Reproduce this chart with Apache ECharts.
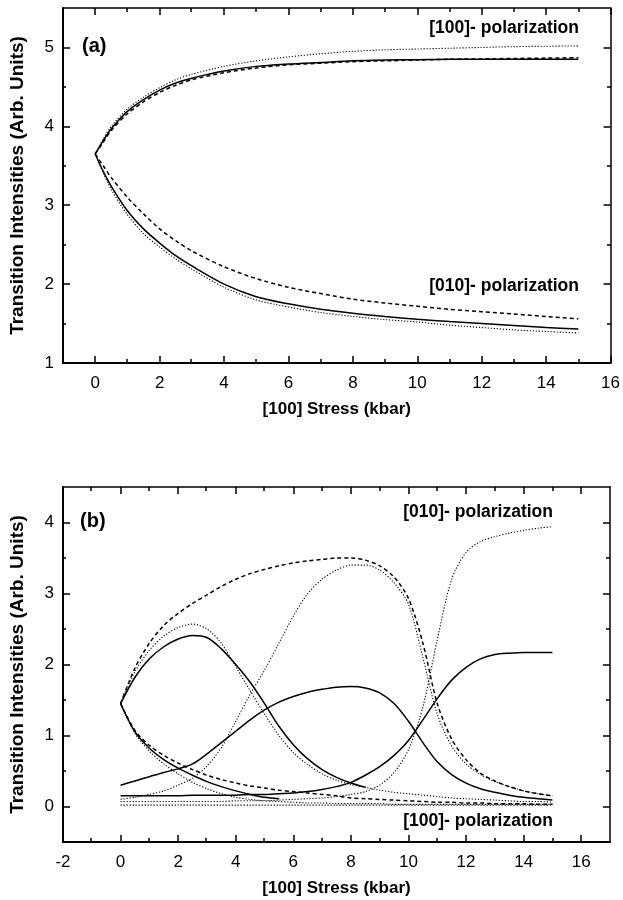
<!DOCTYPE html>
<html><head><meta charset="utf-8">
<script src="https://cdn.jsdelivr.net/npm/echarts@6/dist/echarts.min.js"></script>
<style>html,body{margin:0;padding:0;background:#fff}#c{width:623px;height:900px}</style>
</head><body><div id="c"></div>
<script>
// ---------- Panel (a) data ----------
const xA = [0,0.25,0.5,1,1.5,2,2.5,3,4,5,6,7,8,9,10,11,12,13,14,15];
const a100Solid  = [3.65,3.82,3.97,4.19,4.34,4.46,4.55,4.61,4.70,4.76,4.79,4.81,4.83,4.84,4.845,4.85,4.85,4.85,4.85,4.85];
const a100Dotted = [3.65,3.84,4.00,4.22,4.37,4.49,4.59,4.66,4.76,4.83,4.88,4.92,4.95,4.97,4.98,4.99,5.00,5.01,5.015,5.02];
const a100Dashed = [3.65,3.80,3.95,4.16,4.31,4.43,4.52,4.59,4.68,4.74,4.78,4.80,4.82,4.83,4.84,4.85,4.855,4.86,4.865,4.87];
const a010Solid  = [3.65,3.43,3.24,2.93,2.70,2.52,2.36,2.23,2.00,1.84,1.75,1.68,1.63,1.59,1.555,1.525,1.50,1.475,1.45,1.43];
const a010Dotted = [3.65,3.41,3.20,2.88,2.64,2.47,2.32,2.19,1.96,1.80,1.71,1.64,1.59,1.55,1.52,1.48,1.45,1.42,1.40,1.38];
const a010Dashed = [3.65,3.50,3.35,3.10,2.89,2.70,2.55,2.42,2.22,2.07,1.96,1.88,1.81,1.76,1.72,1.68,1.65,1.62,1.59,1.56];
const xTicksA = [0,2,4,6,8,10,12,14,16];
const xMinorA = [1,3,5,7,9,11,13,15];
const yTicksA = [1,2,3,4,5];
const yMinorA = [1.5,2.5,3.5,4.5];

// ---------- Panel (b) data ----------
const xB = [0,0.5,1,1.5,2,2.5,3,3.5,4,4.5,5,5.5,6,6.5,7,7.5,8,8.5,9,9.5,10,10.5,11,11.5,12,12.5,13,13.5,14,14.5,15];
const bSolidA = [1.45,1.82,2.08,2.25,2.36,2.41,2.38,2.22,2.00,1.75,1.45,1.13,0.87,0.67,0.52,0.41,0.33,0.27,null,null,null,null,null,null,null,null,null,null,null,null,null];
const bSolidB = [0.30,0.36,0.42,0.48,0.53,0.60,0.74,0.90,1.06,1.22,1.36,1.47,1.55,1.61,1.65,1.68,1.69,1.67,1.60,1.45,1.20,0.90,0.63,0.45,0.33,0.25,0.20,0.16,0.13,0.11,0.09];
const bSolidC = [0.15,0.15,0.15,0.15,0.15,0.16,0.16,0.16,0.16,0.17,0.17,0.18,0.19,0.21,0.24,0.28,0.34,0.44,0.56,0.72,0.93,1.22,1.52,1.78,1.96,2.08,2.14,2.16,2.17,2.17,2.17];
const bSolidD = [1.45,1.05,0.82,0.66,0.54,0.44,0.35,0.28,0.22,0.17,0.13,0.11,null,null,null,null,null,null,null,null,null,null,null,null,null,null,null,null,null,null,null];
const bDashedE = [1.45,1.95,2.30,2.55,2.72,2.86,2.98,3.10,3.20,3.28,3.34,3.39,3.43,3.46,3.48,3.50,3.50,3.47,3.39,3.23,2.93,2.30,1.45,0.95,0.66,0.47,0.36,0.28,0.22,0.18,0.15];
const bDashedF = [1.45,1.07,0.86,0.72,0.61,0.52,0.44,0.38,0.33,0.29,0.26,0.23,0.21,0.19,0.17,0.15,0.12,0.11,0.10,0.09,0.08,0.07,0.06,0.06,0.05,0.05,0.04,0.04,0.04,0.03,0.03];
const bDottedG = [1.45,1.90,2.20,2.40,2.52,2.57,2.50,2.30,1.97,1.63,1.30,1.00,0.76,0.59,0.46,0.37,0.31,0.27,0.23,0.20,0.18,0.16,0.14,0.12,0.11,0.10,0.09,0.08,0.07,0.07,0.06];
const bDottedH = [0.10,0.13,0.17,0.22,0.30,0.40,0.57,0.83,1.20,1.58,1.92,2.30,2.68,3.00,3.20,3.33,3.40,3.40,3.33,3.15,2.85,2.10,1.30,0.85,0.60,0.45,0.35,0.28,0.22,0.18,0.15];
const bDottedI = [1.45,1.03,0.78,0.60,0.46,0.34,0.25,0.18,0.13,0.10,0.08,0.07,0.06,0.05,0.05,0.04,0.04,0.04,0.04,0.03,0.03,0.03,0.03,0.03,0.03,0.03,0.03,0.03,0.03,0.03,0.03];
const bDottedJ = [0.07,0.07,0.07,0.07,0.07,0.07,0.07,0.07,0.08,0.08,0.08,0.09,0.10,0.11,0.12,0.14,0.17,0.21,0.30,0.48,0.80,1.40,2.35,3.20,3.58,3.73,3.80,3.85,3.89,3.92,3.94];
const bDottedK = [0.02,0.02,0.02,0.02,0.02,0.02,0.02,0.02,0.02,0.02,0.02,0.02,0.02,0.02,0.02,0.02,0.02,0.02,0.02,0.02,0.02,0.02,0.02,0.02,0.02,0.02,0.02,0.02,0.02,0.02,0.02];
const xTicksB = [-2,0,2,4,6,8,10,12,14,16];
const xMinorB = [-1,1,3,5,7,9,11,13,15];
const yTicksB = [0,1,2,3,4];
const yMinorB = [0.5,1.5,2.5,3.5];

const xTitle = '[100] Stress (kbar)';
const yTitle = 'Transition Intensities (Arb. Units)';

const FONT = '"Liberation Sans", Arial, sans-serif';
const chart = echarts.init(document.getElementById('c'), null, {renderer:'canvas'});

const rectA = {left:62, top:8, right:12, height:355};
const rectB = {left:62, top:487, right:13, height:355};

const grids = [rectA, rectA, rectB, rectB].map(r => Object.assign({containLabel:false}, r));

function xAx(grid, pos, min, max, ticks, len, labels, lineShow, name) {
  return {
    type:'value', gridIndex:grid, position:pos, min:min, max:max,
    axisLine:{show:lineShow, onZero:false, lineStyle:{color:'#000', width:pos==='bottom'?2:1.5}},
    axisTick:{show:true, inside:true, length:len, customValues:ticks, lineStyle:{color:'#000', width:1.5}},
    axisLabel:{show:!!labels, customValues:ticks, color:'#000', fontSize:17, fontFamily:FONT, margin:12},
    splitLine:{show:false},
    name: name || '', nameLocation:'middle', nameGap:38,
    nameTextStyle:{color:'#000', fontSize:17, fontWeight:'bold', fontFamily:FONT}
  };
}
function yAx(grid, pos, min, max, ticks, len, labels, lineShow, name) {
  return {
    type:'value', gridIndex:grid, position:pos, min:min, max:max,
    axisLine:{show:lineShow, onZero:false, lineStyle:{color:'#000', width:pos==='left'?2:1.5}},
    axisTick:{show:true, inside:true, length:len, customValues:ticks, lineStyle:{color:'#000', width:1.5}},
    axisLabel:{show:!!labels, customValues:ticks, color:'#000', fontSize:17, fontFamily:FONT, margin:9},
    splitLine:{show:false},
    name: name || '', nameLocation:'middle', nameGap:36,
    nameTextStyle:{color:'#000', fontSize:19, fontWeight:'bold', fontFamily:FONT}
  };
}

const xAxes = [
  xAx(0,'bottom',-1,16,xTicksA,7,true,true,xTitle),
  xAx(0,'top',-1,16,xTicksA,7,false,true),
  xAx(1,'bottom',-1,16,xMinorA,4,false,false),
  xAx(1,'top',-1,16,xMinorA,4,false,false),
  xAx(2,'bottom',-2,17,xTicksB,7,true,true,xTitle),
  xAx(2,'top',-2,17,xTicksB,7,false,true),
  xAx(3,'bottom',-2,17,xMinorB,4,false,false),
  xAx(3,'top',-2,17,xMinorB,4,false,false)
];
const yAxes = [
  yAx(0,'left',1,5.5,yTicksA,7,true,true,yTitle),
  yAx(0,'right',1,5.5,yTicksA,7,false,true),
  yAx(1,'left',1,5.5,yMinorA,4,false,false),
  yAx(1,'right',1,5.5,yMinorA,4,false,false),
  yAx(2,'left',-0.5,4.5,yTicksB,7,true,true,yTitle),
  yAx(2,'right',-0.5,4.5,yTicksB,7,false,true),
  yAx(3,'left',-0.5,4.5,yMinorB,4,false,false),
  yAx(3,'right',-0.5,4.5,yMinorB,4,false,false)
];

const STY = {
  solid:{type:'solid', width:1.5},
  dashed:{type:[4,3], width:1.5},
  dotted:{type:[1.2,1.8], width:1.1}
};
function ser(xs, ys, axisIdx, style) {
  return {
    type:'line', xAxisIndex:axisIdx, yAxisIndex:axisIdx, symbol:'none', smooth:0.3,
    connectNulls:false, silent:true, animation:false,
    data: xs.map((x,i) => [x, ys[i]]),
    lineStyle:Object.assign({color:'#000'}, STY[style])
  };
}

const series = [
  ser(xA, a100Solid, 0, 'solid'),
  ser(xA, a100Dotted, 0, 'dotted'),
  ser(xA, a100Dashed, 0, 'dashed'),
  ser(xA, a010Solid, 0, 'solid'),
  ser(xA, a010Dotted, 0, 'dotted'),
  ser(xA, a010Dashed, 0, 'dashed'),
  ser(xB, bSolidA, 4, 'solid'),
  ser(xB, bSolidB, 4, 'solid'),
  ser(xB, bSolidC, 4, 'solid'),
  ser(xB, bSolidD, 4, 'solid'),
  ser(xB, bDashedE, 4, 'dashed'),
  ser(xB, bDashedF, 4, 'dashed'),
  ser(xB, bDottedG, 4, 'dotted'),
  ser(xB, bDottedH, 4, 'dotted'),
  ser(xB, bDottedI, 4, 'dotted'),
  ser(xB, bDottedJ, 4, 'dotted'),
  ser(xB, bDottedK, 4, 'dotted')
];

function txt(x, y, text, align, size) {
  return {type:'text', x:x, y:y, silent:true,
    style:{text:text, fill:'#000', font:'bold ' + size + 'px ' + FONT, textAlign:align, textVerticalAlign:'middle'}};
}

chart.setOption({
  animation:false,
  backgroundColor:'#fff',
  grid: grids,
  xAxis: xAxes,
  yAxis: yAxes,
  series: series,
  graphic: [
    txt(82, 46, '(a)', 'left', 20),
    txt(579, 28, '[100]- polarization', 'right', 17.5),
    txt(579, 286, '[010]- polarization', 'right', 17.5),
    txt(80, 521, '(b)', 'left', 20),
    txt(553, 512, '[010]- polarization', 'right', 17.5),
    txt(553, 821, '[100]- polarization', 'right', 17.5)
  ]
});
</script></body></html>
